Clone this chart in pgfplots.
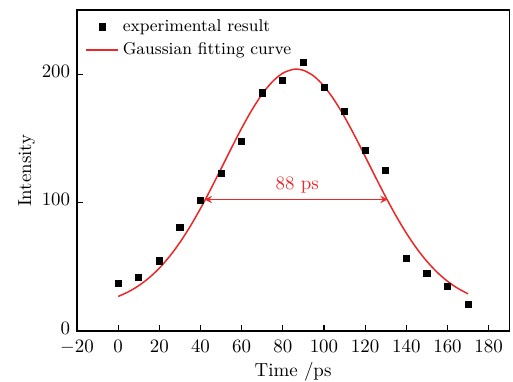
\documentclass[border=0pt]{standalone}
\usepackage{pgfplots}
\pgfplotsset{compat=1.18}
\definecolor{fitred}{RGB}{235,40,40}
\begin{document}
\begin{tikzpicture}
\begin{axis}[
  name=ax, at={(0,0)}, anchor=south west,
  scale only axis,
  width=228.6pt, height=169.8pt,
  xmin=-20, xmax=190, ymin=0, ymax=250,
  xtick={-20,0,20,...,180},
  ytick={0,100,200},
  tick align=inside,
  major tick length=3.2pt,
  xtick pos=bottom, ytick pos=left,
  axis line style={line width=0.7pt},
  every tick/.style={line width=0.6pt, black},
  xticklabel style={inner sep=1pt, yshift=-3.8pt},
  yticklabel style={inner sep=1pt, xshift=-2.4pt, yshift=1.5pt},
  xlabel={Time /ps}, ylabel={Intensity},
  xlabel style={yshift=0.5pt},
  ylabel style={yshift=-1pt},
  legend style={at={(0.005,0.995)}, anchor=north west, draw=none, fill=none, row sep=0.5pt, font=\small},
  legend cell align=left,
]
\addplot[only marks, mark=square*, mark size=1.6pt, black] coordinates {
(0,37) (10,41.5) (20,54.7) (30,80.7) (40,102) (50,122.7) (60,147.6) (70,185.5)
(80,195.3) (90,209.3) (100,189.6) (110,171.4) (120,140.6) (130,125.5)
(140,56.6) (150,44.6) (160,34.8) (170,20.8)
};
\addlegendentry{experimental result}
\addplot[fitred, line width=0.8pt, smooth] coordinates {
(0,26.97) (5,30.61) (10,35.37) (15,41.44) (20,49.00) (25,58.18) (30,69.02)
(35,81.50) (40,95.45) (45,110.57) (50,126.42) (55,142.42) (60,157.95)
(65,172.23) (70,184.58) (75,194.29) (80,200.84) (85,203.83) (86.5,204)
(90,203.09) (95,198.64) (100,190.75) (105,179.91) (110,166.71) (115,151.85)
(120,136.05) (125,120.02) (130,104.42) (135,89.72) (140,76.33) (145,64.48)
(150,54.31) (155,45.79) (160,38.83) (165,33.32) (170,29.03)
};
\addlegendentry{Gaussian fitting curve}
\addplot[fitred, line width=0.75pt, <->, >=stealth, forget plot] coordinates {(42,102.5) (131,102.5)};
\node[fitred, anchor=base] at (axis cs:87,110) {88 ps};
\end{axis}
\pgfresetboundingbox
\path ([shift={(-40.7pt,-26.5pt)}]ax.south west) rectangle ([shift={(2pt,5.3pt)}]ax.north east);
\end{tikzpicture}
\end{document}
